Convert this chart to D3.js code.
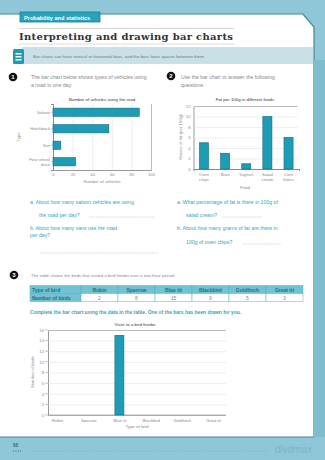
<!DOCTYPE html>
<html>
<head>
<meta charset="utf-8">
<script src="https://cdn.jsdelivr.net/npm/d3@7"></script>
<style>
  body { margin: 0; background: #8fc7d8; }
  svg { display: block; font-family: "Liberation Sans", Arial, sans-serif; }
</style>
</head>
<body>
<div id="page"></div>
<script>
// chart 1: vehicles
var vehicleTypes  = ["Saloon", "Hatchback", "Van", "Four wheel drive"];
var vehicleCounts = [88, 57, 8, 23];
var vehicleTicks  = [0, 20, 40, 60, 80, 100];

// chart 2: fat in foods
var foods      = ["Oven chips", "Bran", "Yoghurt", "Salad cream", "Corn flakes"];
var fatGrams   = [5, 3, 1, 10, 6];
var fatTicks   = [0, 2, 4, 6, 8, 10, 12];

// chart 3: birds
var birds      = ["Robin", "Sparrow", "Blue tit", "Blackbird", "Goldfinch", "Great tit"];
var birdCounts = [2, 8, 15, 9, 5, 3];
var drawnBirds = ["Blue tit"];
var birdTicks  = [0, 2, 4, 6, 8, 10, 12, 14, 16];

var W = 325, H = 460;
var teal = "#1e9cb5", tealDark = "#0f6c80", grey = "#8a8a8a", qText = "#3aa3b9", grid = "#dcdcdc";

var svg = d3.select("#page").append("svg").attr("width", W).attr("height", H);

// page background + white panel
svg.append("rect").attr("width", W).attr("height", H).attr("fill", "#8fc7d8");
svg.append("path")
	.attr("d", "M-2,14 L303,14 L314,27 L314,437 L-2,437 Z")
	.attr("fill", "#fff").attr("stroke", "#3f8797").attr("stroke-width", 1.2);
svg.append("rect").attr("x", 313).attr("y", 60).attr("width", 12).attr("height", 377).attr("fill", "#7fbccd");

// tag
svg.append("rect").attr("x", 20).attr("y", 12).attr("width", 80).attr("height", 10)
	.attr("fill", "#2aa3ba").attr("stroke", "#1a7c90").attr("stroke-width", 0.8);
svg.append("text").attr("x", 24).attr("y", 19.5).text("Probability and statistics")
	.attr("font-size", 5.6).attr("font-weight", "bold").attr("fill", "#fff");

// title
svg.append("line").attr("x1", 19).attr("x2", 234).attr("y1", 28.5).attr("y2", 28.5).attr("stroke", "#c8c8c8").attr("stroke-width", 0.8);
svg.append("text").attr("x", 19).attr("y", 40).text("Interpreting and drawing bar charts")
	.attr("font-family", "'DejaVu Serif', serif").attr("font-weight", "bold")
	.attr("font-size", 10).attr("textLength", 214).attr("fill", "#333");
svg.append("line").attr("x1", 19).attr("x2", 234).attr("y1", 44).attr("y2", 44).attr("stroke", "#bbb").attr("stroke-width", 0.8).attr("stroke-dasharray", "1,0.6");

// info box
svg.append("rect").attr("x", 22).attr("y", 47).attr("width", 291).attr("height", 17).attr("fill", "#c9e0e7");
svg.append("rect").attr("x", 13).attr("y", 49).attr("width", 11).attr("height", 15).attr("rx", 1.5).attr("fill", "#1f9ab2");
[53, 56, 59].forEach(function(y) {
	svg.append("rect").attr("x", 15.5).attr("y", y).attr("width", 6).attr("height", 1.5).attr("fill", "#fff");
});
svg.append("text").attr("x", 33).attr("y", 57.5).attr("font-size", 4.4).attr("fill", "#777")
	.text("Bar charts can have vertical or horizontal bars, and the bars have spaces between them.");

function numberBadge(x, y, n) {
	svg.append("circle").attr("cx", x).attr("cy", y).attr("r", 4.3).attr("fill", "#111");
	svg.append("text").attr("x", x).attr("y", y + 2).attr("text-anchor", "middle")
		.attr("font-size", 6).attr("font-weight", "bold").attr("fill", "#fff").text(n);
}
function lines(x, y, arr, size, fill, dy, weight) {
	var t = svg.append("text").attr("x", x).attr("y", y).attr("font-size", size).attr("fill", fill);
	if (weight) t.attr("font-weight", weight);
	arr.forEach(function(s, i) {
		t.append("tspan").attr("x", x).attr("dy", i ? dy : 0).text(s);
	});
	return t;
}

numberBadge(13, 77, "1");
lines(31, 79, ["The bar chart below shows types of vehicles using", "a road in one day."], 5.2, "#888", 8);
numberBadge(171, 76, "2");
lines(181, 79, ["Use the bar chart to answer the following", "questions."], 5.2, "#888", 8);

// ---------- chart 1: horizontal bars ----------
var x1 = d3.scaleLinear().domain([0, 100]).range([53, 151]);
var y1 = d3.scaleBand().domain(vehicleTypes).range([104, 170]).paddingInner(0.5).paddingOuter(0.25);

svg.append("text").attr("x", 102).attr("y", 101).attr("text-anchor", "middle")
	.attr("font-size", 4.4).attr("fill", "#333").text("Number of vehicles using the road");

var g1 = svg.append("g");
g1.append("g").attr("transform", "translate(0,170)")
	.call(d3.axisBottom(x1).tickValues(vehicleTicks).tickSize(-66).tickPadding(3))
	.call(function(g) {
		g.select(".domain").attr("stroke", "#999");
		g.selectAll(".tick line").attr("stroke", grid).attr("stroke-width", 0.5);
		g.selectAll("text").attr("font-size", 4.2).attr("fill", grey);
	});
g1.append("g").attr("transform", "translate(53,0)")
	.call(d3.axisLeft(y1).tickSize(2).tickPadding(3).tickFormat(function() { return ""; }))
	.call(function(g) {
		g.select(".domain").attr("stroke", "#888");
		g.selectAll(".tick line").attr("stroke", "#888").attr("stroke-width", 0.5);
	});
vehicleTypes.forEach(function(t) {
	var parts = t === "Four wheel drive" ? ["Four wheel", "drive"] : [t];
	var yc = y1(t) + y1.bandwidth() / 2 + 1.5 - (parts.length - 1) * 2.5;
	var tx = svg.append("text").attr("text-anchor", "end").attr("font-size", 4.2).attr("fill", grey);
	parts.forEach(function(p, i) { tx.append("tspan").attr("x", 50).attr("y", yc + i * 5).text(p); });
});
g1.selectAll("rect.bar").data(vehicleCounts).enter().append("rect")
	.attr("x", x1(0)).attr("y", function(d, i) { return y1(vehicleTypes[i]); })
	.attr("width", function(d) { return x1(d) - x1(0); }).attr("height", y1.bandwidth())
	.attr("fill", teal).attr("stroke", tealDark).attr("stroke-width", 0.6);
svg.append("text").attr("x", 102).attr("y", 183).attr("text-anchor", "middle")
	.attr("font-size", 4.4).attr("fill", grey).text("Number of vehicles");
svg.append("text").attr("transform", "translate(20,137) rotate(-90)").attr("text-anchor", "middle")
	.attr("font-size", 4.4).attr("fill", grey).text("Type");

// ---------- chart 2: vertical bars ----------
var x2 = d3.scaleBand().domain(foods).range([193.5, 299]).paddingInner(0.57).paddingOuter(0.28);
var y2 = d3.scaleLinear().domain([0, 12]).range([169, 106]);

svg.append("text").attr("x", 245).attr("y", 101).attr("text-anchor", "middle")
	.attr("font-size", 4.4).attr("fill", "#333").text("Fat per 100g in different foods");
var g2 = svg.append("g");
g2.append("g").attr("transform", "translate(193.5,0)")
	.call(d3.axisLeft(y2).tickValues(fatTicks).tickSize(-104).tickPadding(3))
	.call(function(g) {
		g.select(".domain").attr("stroke", "#999");
		g.selectAll(".tick line").attr("stroke", grid).attr("stroke-width", 0.5);
		g.selectAll("text").attr("font-size", 4.2).attr("fill", grey);
	});
g2.append("g").attr("transform", "translate(0,169)")
	.call(d3.axisBottom(x2).tickSize(2).tickFormat(function() { return ""; }))
	.call(function(g) {
		g.select(".domain").attr("stroke", "#888");
		g.selectAll(".tick line").attr("stroke", "#888").attr("stroke-width", 0.5);
	});
foods.forEach(function(f) {
	var parts = f.split(" ");
	var tx = svg.append("text").attr("text-anchor", "middle").attr("font-size", 4.2).attr("fill", grey);
	parts.forEach(function(p, i) {
		tx.append("tspan").attr("x", x2(f) + x2.bandwidth() / 2).attr("y", 175.5 + i * 5).text(p);
	});
});
g2.selectAll("rect.bar").data(fatGrams).enter().append("rect")
	.attr("x", function(d, i) { return x2(foods[i]); }).attr("width", x2.bandwidth())
	.attr("y", function(d) { return y2(d); }).attr("height", function(d) { return y2(0) - y2(d); })
	.attr("fill", teal).attr("stroke", tealDark).attr("stroke-width", 0.6);
svg.append("text").attr("x", 245).attr("y", 189).attr("text-anchor", "middle")
	.attr("font-size", 4.4).attr("fill", grey).text("Food");
svg.append("text").attr("transform", "translate(182,137) rotate(-90)").attr("text-anchor", "middle")
	.attr("font-size", 4.4).attr("fill", grey).text("Grams of fat (per 100g)");

// ---------- questions ----------
function rule(xa, xb, y) {
	svg.append("line").attr("x1", xa).attr("x2", xb).attr("y1", y).attr("y2", y)
		.attr("stroke", "#bbb").attr("stroke-width", 0.5).attr("stroke-dasharray", "1,0.4");
}
lines(30, 204, ["a.  About how many saloon vehicles are using"], 5.2, qText);
lines(39, 217, ["the road per day?"], 5.2, qText);
rule(89, 155, 217);
lines(30, 230, ["b.  About how many vans use the road", "per day?"], 5.2, qText, 7);
rule(40, 159, 253);
lines(177, 204, ["a.  What percentage of fat is there in 100g of"], 5.2, qText);
lines(186, 217, ["salad cream?"], 5.2, qText);
rule(223, 262, 217);
lines(177, 230, ["b.  About how many grams of fat are there in"], 5.2, qText);
lines(186, 244, ["100g of oven chips?"], 5.2, qText);
rule(243, 281, 244);

// ---------- section 3 ----------
numberBadge(14, 275, "3");
lines(31, 277, ["The table shows the birds that visited a bird feeder over a two-hour period."], 4.4, "#888");

var tableX = 30, labelW = 51, cellW = 37, rowTop = 285.5, rowH = 8;
var headFill = "#72c2d4", headText = "#1f6f82", tBorder = "#4fb0c6";
var rowsLabel = ["Type of bird", "Number of birds"];
rowsLabel.forEach(function(lbl, r) {
	var y = rowTop + r * rowH;
	svg.append("rect").attr("x", tableX).attr("y", y).attr("width", labelW).attr("height", rowH)
		.attr("fill", headFill).attr("stroke", tBorder).attr("stroke-width", 0.5);
	svg.append("text").attr("x", tableX + 2).attr("y", y + 6).attr("font-size", 5).attr("font-weight", "bold")
		.attr("fill", headText).text(lbl);
	birds.forEach(function(b, i) {
		var cx = tableX + labelW + i * cellW;
		svg.append("rect").attr("x", cx).attr("y", y).attr("width", cellW).attr("height", rowH)
			.attr("fill", r === 0 ? headFill : "#fff").attr("stroke", tBorder).attr("stroke-width", 0.5);
		svg.append("text").attr("x", cx + cellW / 2).attr("y", y + 6).attr("text-anchor", "middle")
			.attr("font-size", 5).attr("fill", r === 0 ? headText : "#888")
			.attr("font-weight", r === 0 ? "bold" : "normal")
			.text(r === 0 ? b : birdCounts[i]);
	});
});

svg.append("text").attr("x", 30).attr("y", 314).attr("font-size", 4.9).attr("font-weight", "bold")
	.attr("fill", qText).text("Complete the bar chart using the data in the table. One of the bars has been drawn for you.");

// ---------- chart 3 ----------
var x3 = d3.scalePoint().domain(birds).range([57, 213]);
var y3 = d3.scaleLinear().domain([0, 16]).range([415, 330]);
var barW = 9;

svg.append("text").attr("x", 135).attr("y", 326).attr("text-anchor", "middle")
	.attr("font-size", 4.4).attr("fill", "#333").text("Visits to a bird feeder");
var g3 = svg.append("g");
g3.append("g").attr("transform", "translate(48,0)")
	.call(d3.axisLeft(y3).tickValues(birdTicks).tickSize(-178).tickPadding(4))
	.call(function(g) {
		g.select(".domain").attr("stroke", "#999");
		g.selectAll(".tick line").attr("stroke", grid).attr("stroke-width", 0.5);
		g.selectAll("text").attr("font-size", 4.2).attr("fill", grey);
	});
g3.selectAll(".tickmark").data(birdTicks).enter().append("line")
	.attr("x1", 45).attr("x2", 48).attr("y1", function(d) { return y3(d); }).attr("y2", function(d) { return y3(d); })
	.attr("stroke", "#888").attr("stroke-width", 0.5);
g3.append("line").attr("x1", 48).attr("x2", 226).attr("y1", y3(0)).attr("y2", y3(0)).attr("stroke", "#888").attr("stroke-width", 0.6);
g3.append("g").attr("transform", "translate(0,415)")
	.call(d3.axisBottom(x3).tickSize(0).tickPadding(4))
	.call(function(g) {
		g.select(".domain").remove();
		g.selectAll("text").attr("font-size", 4.2).attr("fill", grey);
	});
g3.selectAll("rect.bar").data(birds.filter(function(b) { return drawnBirds.indexOf(b) >= 0; }))
	.enter().append("rect")
	.attr("x", function(b) { return x3(b) - barW / 2; }).attr("width", barW)
	.attr("y", function(b) { return y3(birdCounts[birds.indexOf(b)]); })
	.attr("height", function(b) { return y3(0) - y3(birdCounts[birds.indexOf(b)]); })
	.attr("fill", teal).attr("stroke", tealDark).attr("stroke-width", 0.6);
svg.append("text").attr("x", 137).attr("y", 428).attr("text-anchor", "middle")
	.attr("font-size", 4.4).attr("fill", grey).text("Type of bird");
svg.append("text").attr("transform", "translate(34,372) rotate(-90)").attr("text-anchor", "middle")
	.attr("font-size", 4.4).attr("fill", grey).text("Number of birds");

// ---------- footer ----------
svg.append("text").attr("x", 13).attr("y", 447).attr("font-size", 4.5).attr("font-weight", "bold")
	.attr("fill", "#2f6f80").text("68");
svg.append("line").attr("x1", 13).attr("x2", 21).attr("y1", 451).attr("y2", 451)
	.attr("stroke", "#2f6f80").attr("stroke-width", 1).attr("stroke-dasharray", "1,1.4");
svg.append("line").attr("x1", 30).attr("x2", 268).attr("y1", 451).attr("y2", 451)
	.attr("stroke", "#5fa8bc").attr("stroke-width", 0.8).attr("stroke-dasharray", "0.8,1.4");
svg.append("text").attr("x", 312).attr("y", 453).attr("text-anchor", "end").attr("font-size", 10)
	.attr("font-style", "italic").attr("fill", "#79b5c3").text("divdmax");
</script>
</body>
</html>
